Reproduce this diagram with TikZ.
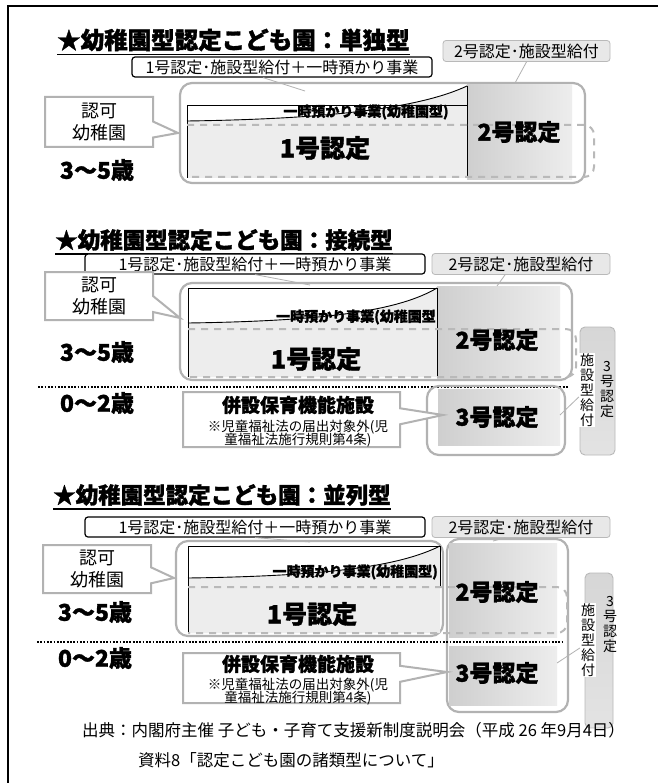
\documentclass[tikz,border=0pt]{standalone}
\usepackage{fontspec}
\setmainfont{Noto Sans CJK JP}
\newfontfamily\hvy{Noto Sans CJK JP}[BoldFeatures={FakeBold=1.4}]
\usetikzlibrary{shapes.callouts}
\tikzset{
  ttl/.style={anchor=west, inner sep=0pt, font=\hvy\bfseries\fontsize{23.5}{26}\selectfont},
  lbox/.style={draw=black, line width=1.2pt, fill=white, rounded corners=3pt, inner sep=0pt, minimum height=20pt, font=\fontsize{16}{18}\selectfont},
  gbox/.style={draw=gray!55, line width=0.8pt, fill=gray!18, rounded corners=3pt, inner sep=0pt, minimum height=21pt, font=\fontsize{16}{18}\selectfont},
  bigr/.style={draw=gray!60, line width=2.2pt, rounded corners=12pt},
  dsh/.style={draw=gray!55, line width=2pt, dash pattern=on 7pt off 6pt, rounded corners=10pt},
  dotl/.style={draw=black, line width=2.6pt, dash pattern=on 1.8pt off 1.5pt},
  cert/.style={inner sep=0pt, font=\hvy\bfseries\fontsize{23}{26}\selectfont},
  certa/.style={inner sep=0pt, font=\hvy\bfseries\fontsize{25}{28}\selectfont},
  age/.style={inner sep=0pt, font=\hvy\bfseries\fontsize{23}{26}\selectfont},
  band/.style={inner sep=0pt, font=\hvy\bfseries\fontsize{14}{16}\selectfont},
  callb/.style={rectangle callout, draw=gray!60, line width=2pt, fill=white, callout pointer width=16pt, inner sep=0pt},
  ptr/.style={draw=gray!60, line width=0.8pt},
  blk/.style={draw=black, line width=0.9pt},
  g2/.style={left color=gray!38, right color=gray!14},
  g1/.style={fill=gray!14},
  vbox/.style={draw=gray!55, line width=0.9pt, rounded corners=5pt, top color=gray!32, bottom color=gray!22},
  vtxt/.style={align=center, inner sep=1pt, font=\fontsize{14}{15}\selectfont},
  small/.style={inner sep=0pt, font=\fontsize{13.5}{15}\selectfont},
  foot/.style={anchor=west, inner sep=0pt, font=\fontsize{16.5}{18}\selectfont},
}
\begin{document}
\begin{tikzpicture}[x=1pt,y=-1pt]
\useasboundingbox (0,0) rectangle (666,783);
\fill[white] (0,0) rectangle (666,783);
% frame
\draw[line width=1.8pt] (8,783) -- (8,6) -- (658,6);

% ================= Section 1 =================
\node[ttl] (t1) at (57,40) {★幼稚園型認定こども園：単独型};
\draw[line width=1.8pt] ([yshift=-3pt]t1.south west) -- ([yshift=-3pt]t1.south east);
\node[gbox, minimum width=167pt] (s1b) at (526.5,51) {2号認定･施設型給付};
\node[lbox, minimum width=300pt] (s1a) at (282,67) {1号認定･施設型給付＋一時預かり事業};
\draw[bigr] (180,83) rectangle (585,183);
\shade[g2] (467,85) rectangle (572,180);
\fill[g1] (187,121) .. controls (330,119) and (420,108) .. (467,86) -- (467,178) -- (187,178) -- cycle;
\draw[blk] (187,178) -- (187,105) -- (467,105);
\node[band] (s1t) at (366,112) {一時預かり事業(幼稚園型)};
\draw[blk] (187,121) .. controls (330,119) and (420,108) .. (467,86);
\draw[blk] (467,86) -- (467,178);
\draw[dsh] (187,125) -- (594,125) -- (594,177) -- (187,177);
\node[certa] (s1c1) at (325,148) {1号認定};
\node[cert] (s1c2) at (519,132) {2号認定};
\coordinate (s1p1) at (305,91);
\coordinate (s1p2) at (515,83);
\draw[ptr] (s1a.south) ++(-19,0) coordinate (s1q1) -- (s1p1);
\draw[ptr] (s1b.south) -- (s1p2);
\node[callb, minimum width=108pt, minimum height=50pt, callout absolute pointer={(178,133)}, align=center, font=\fontsize{18}{22}\selectfont] (s1k) at (99,122) {認可\\幼稚園};
\node[age] (s1y) at (97,170) {3～5歳};

% ================= Section 2 =================
\node[ttl, font=\hvy\bfseries\fontsize{22.5}{26}\selectfont] (t2) at (55,240) {★幼稚園型認定こども園：接続型};
\draw[line width=1.8pt] ([yshift=-3pt]t2.south west) -- ([yshift=-3pt]t2.south east);
\node[lbox, minimum width=340pt] (s2a) at (255,264) {1号認定･施設型給付＋一時預かり事業};
\node[gbox, minimum width=178pt] (s2b) at (521,264) {2号認定･施設型給付};
\draw[bigr] (180,283) rectangle (572,380);
\shade[g2] (437,286) rectangle (560,378);
\fill[g1] (188,323) .. controls (330,321) and (400,310) .. (437,288) -- (437,377) -- (188,377) -- cycle;
\draw[blk] (188,377) -- (188,288) -- (437,288);
\node[band, anchor=east] (s2t) at (436,317) {一時預かり事業(幼稚園型};
\draw[blk] (188,323) .. controls (330,321) and (400,310) .. (437,288);
\draw[blk] (437,288) -- (437,377);
\draw[dsh] (188,329) -- (576,329) -- (576,377) -- (188,377);
\node[certa] (s2c1) at (316,359) {1号認定};
\node[cert] (s2c2) at (497,340) {2号認定};
\coordinate (s2p1) at (310,285);
\coordinate (s2p2) at (497,286);
\draw[ptr] (s2a.south) -- (s2p1);
\draw[ptr] (s2b.south) ++(-16,0) -- (s2p2);
\node[callb, minimum width=108pt, minimum height=48pt, callout absolute pointer={(180,318)}, align=center, font=\fontsize{18}{22}\selectfont] (s2k) at (99,296) {認可\\幼稚園};
\node[age] (s2y) at (97,352) {3～5歳};
\draw[dotl] (38,387) -- (569,387);
\node[age] (s2z) at (97,403) {0～2歳};
\draw[bigr] (427,386) rectangle (565,455);
\shade[g2] (438,389) rectangle (560,445);
\node[cert] (s2c3) at (497,417) {3号認定};
\node[callb, minimum width=217pt, minimum height=55pt, callout absolute pointer={(443,415)}] (s2h) at (291.5,419.5) {};
\node[inner sep=0pt, font=\hvy\bfseries\fontsize{19}{22}\selectfont] (s2h1) at (298,405) {併設保育機能施設};
\node[small] (s2h2) at (298,427) {※児童福祉法の届出対象外(児};
\node[small] (s2h3) at (298,440) {童福祉法施行規則第4条)};
\draw[vbox] (580,327) rectangle (615,455);
\node[vtxt] (s2v1) at (607,390) {3\\号\\認\\定};
\node[vtxt, fill=white] (s2v2) at (587,390) {施\\設\\型\\給\\付};
\coordinate (s2p3) at (560,415);
\draw[ptr] (s2p3) -- (s2v2.west |- 0,397);

% ================= Section 3 =================
\node[ttl, font=\hvy\bfseries\fontsize{22.5}{26}\selectfont] (t3) at (53,495) {★幼稚園型認定こども園：並列型};
\draw[line width=1.8pt] ([yshift=-3pt]t3.south west) -- ([yshift=-3pt]t3.south east);
\node[lbox, minimum width=340pt] (s3a) at (255,527) {1号認定･施設型給付＋一時預かり事業};
\node[gbox, minimum width=178pt] (s3b) at (521,527) {2号認定･施設型給付};
\draw[bigr] (176,541) rectangle (443,636);
\draw[bigr] (447,539) rectangle (568,712);
\shade[g2] (449,543) rectangle (557,637);
\fill[g1] (188,578) .. controls (330,576) and (400,566) .. (440,546) -- (440,633) -- (188,633) -- cycle;
\draw[blk] (188,633) -- (188,546) -- (440,546);
\node[band, anchor=east] (s3t) at (438,572) {一時預かり事業(幼稚園型)};
\draw[blk] (188,578) .. controls (330,576) and (400,566) .. (440,546);
\draw[blk] (440,546) -- (440,587);
\draw[dsh] (188,587) -- (567,587) -- (567,633) -- (188,633);
\node[certa] (s3c1) at (312,614) {1号認定};
\node[cert] (s3c2) at (497,592) {2号認定};
\coordinate (s3p1) at (310,542);
\coordinate (s3p2) at (493,541);
\draw[ptr] (s3a.south) -- (s3p1);
\draw[ptr] (s3b.south) ++(-16,0) -- (s3p2);
\node[callb, minimum width=108pt, minimum height=48pt, callout absolute pointer={(174,578)}, align=center, font=\fontsize{18}{22}\selectfont] (s3k) at (97,569) {認可\\幼稚園};
\node[age] (s3y) at (95,612) {3～5歳};
\draw[dotl] (37,642) -- (563,642);
\node[age] (s3z) at (95,658) {0～2歳};
\shade[g2] (449,646) rectangle (557,705);
\node[cert] (s3c3) at (497,673) {3号認定};
\node[callb, minimum width=217pt, minimum height=50pt, callout absolute pointer={(447,672)}] (s3h) at (291.5,678) {};
\node[inner sep=0pt, font=\hvy\bfseries\fontsize{19}{22}\selectfont] (s3h1) at (298,664) {併設保育機能施設};
\node[small] (s3h2) at (298,685) {※児童福祉法の届出対象外(児};
\node[small] (s3h3) at (298,698) {童福祉法施行規則第4条)};
\draw[vbox] (585,573) rectangle (613,728);
\node[vtxt] (s3v1) at (610,625) {3\\号\\認\\定};
\node[vtxt, fill=white] (s3v2) at (588,640) {施\\設\\型\\給\\付};
\coordinate (s3p3) at (557,663);
\draw[ptr] (s3p3) -- (s3v2.west |- 0,648);

% footer
\node[foot] (f1) at (82,730) {出典：内閣府主催 子ども・子育て支援新制度説明会（平成 26 年9月4日）};
\node[foot] (f2) at (138,760) {資料8「認定こども園の諸類型について」};
\end{tikzpicture}
\end{document}
